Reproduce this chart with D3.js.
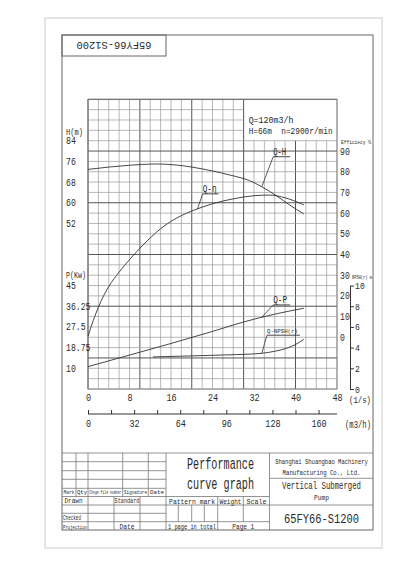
<!DOCTYPE html>
<html>
<head>
<meta charset="utf-8">
<script src="https://cdn.jsdelivr.net/npm/d3@7"></script>
<style>
  body { margin: 0; background: #fff; }
  svg text { font-family: "Liberation Mono", monospace; fill: #2a2a2a; white-space: pre; }
</style>
</head>
<body>
<div id="chart"></div>
<script>
// curve points, Q in l/s
const qhData = [[0, 72.9], [4, 73.8], [8, 74.5], [13, 75.0], [17, 74.6], [20, 73.8], [24, 72.3],
  [27.4, 70.7], [31.2, 68.5], [33.5, 66.2], [36.4, 62.6], [38.9, 59.1], [41.6, 55.7]];
const qEffData = [[0, 0.5], [1, 8], [2, 14.5], [3, 20], [4, 24.5], [6, 31.5], [8, 37.5], [10, 43], [12, 48],
  [14, 52.5], [16, 56], [18, 58.8], [20, 61], [24, 64.5], [28, 66.9], [32, 68.4], [35, 68.7], [38, 67.4], [41.6, 64]];
const qpData = [[0, 10.7], [8, 15.6], [16, 20.5], [24, 25.6], [30, 29.6], [36, 32.9], [41.6, 35.4]];
const qNpshData = [[12.5, 3.1], [20, 3.2], [27, 3.3], [33.5, 3.45], [36, 3.65], [38.3, 3.94], [40, 4.3], [41.6, 4.8]];

const flowTicks = [0, 8, 16, 24, 32, 40, 48];
const m3hTicks = [0, 16, 32, 48, 64, 80, 96, 112, 128, 144, 160];
const m3hLabels = [0, 32, 64, 96, 128, 160];
const headTicks = [84, 76, 68, 60, 52];
const powerTicks = [45, 36.25, 27.5, 18.75, 10];
const effTicks = [90, 80, 70, 60, 50, 40, 30, 20, 10, 0];
const npshTicks = [10, 8, 6, 4, 2, 0];

const width = 400, height = 566;
const gx0 = 88, gx1 = 337, gy0 = 99.3, gy1 = 389;
const nCols = 24, nRows = 28;

const svg = d3.select("#chart").append("svg")
    .attr("width", width)
    .attr("height", height);

// scales
const x = d3.scaleLinear().domain([0, 48]).range([gx0, gx1]);
const xm3h = d3.scaleLinear().domain([0, 48 * 3.6]).range([gx0, gx1]);
const rowY = d3.scaleLinear().domain([0, nRows]).range([gy0, gy1]);
const colX = d3.scaleLinear().domain([0, nCols]).range([gx0, gx1]);
const yH = d3.scaleLinear().domain([100, -12]).range([gy0, gy1]);
const yEff = d3.scaleLinear().domain([115, -25]).range([gy0, gy1]);
const yP = d3.scaleLinear().domain([123.75, 1.25]).range([gy0, gy1]);
const yN = d3.scaleLinear().domain([28, 0]).range([gy0, gy1]);

// narrow text: the drawing font is tall and thin, so squeeze a mono face to the wanted width
function label(txt, tx, ty, size, len, anchor) {
  const t = svg.append("text")
      .attr("font-size", size)
      .attr("text-anchor", anchor || "start")
      .text(txt);
  const w = t.node().getComputedTextLength();
  const k = len ? len / w : 0.85;
  t.attr("transform", `translate(${tx},${ty}) scale(${k},1)`);
  return t;
}

// page outline
svg.append("rect")
    .attr("x", 45).attr("y", 18).attr("width", 337).attr("height", 530)
    .attr("fill", "none").attr("stroke", "#ccc").attr("stroke-width", 1);

svg.append("rect")
    .attr("x", 62).attr("y", 35).attr("width", 311).attr("height", 495)
    .attr("fill", "none").attr("stroke", "#666").attr("stroke-width", 1);

// rotated drawing number at the top
svg.append("rect")
    .attr("x", 62).attr("y", 35).attr("width", 104).attr("height", 21)
    .attr("fill", "none").attr("stroke", "#666");
const topNo = svg.append("text")
    .attr("text-anchor", "middle").attr("dy", "0.35em")
    .attr("font-size", 11)
    .text("65FY66-S1200");
topNo.attr("transform", `translate(114,45.5) rotate(180) scale(${75 / topNo.node().getComputedTextLength()},1)`);

// grid, the top right corner is left open for the duty point box
const grid = svg.append("g");
const boxCol = 15, boxRow = 4;
d3.range(0, nCols + 1).forEach(c => {
  const top = (c > boxCol && c < nCols) ? rowY(boxRow) : gy0;
  grid.append("line")
      .attr("x1", colX(c)).attr("x2", colX(c))
      .attr("y1", top).attr("y2", gy1)
      .attr("stroke", c % 5 === 0 ? "#555" : "#999")
      .attr("stroke-width", c % 5 === 0 ? 1 : 0.7);
});
d3.range(0, nRows + 1).forEach(r => {
  const right = (r > 0 && r < boxRow) ? colX(boxCol) : gx1;
  grid.append("line")
      .attr("x1", gx0).attr("x2", right)
      .attr("y1", rowY(r)).attr("y2", rowY(r))
      .attr("stroke", r % 5 === 0 ? "#555" : "#999")
      .attr("stroke-width", r % 5 === 0 ? 1 : 0.7);
});
grid.append("rect")
    .attr("x", gx0).attr("y", gy0).attr("width", gx1 - gx0).attr("height", gy1 - gy0)
    .attr("fill", "none").attr("stroke", "#777").attr("stroke-width", 0.8);

label("Q=120m3/h", colX(boxCol) + 5, 123, 9, 45);
label("H=66m  n=2900r/min", colX(boxCol) + 5, 133.5, 9, 84);

// left labels
const leftX = 66;
label("H(m)", leftX, yH(84) - 6, 9, 17);
headTicks.forEach(d => label(String(d), leftX, yH(d) + 3.5, 10, String(d).length * 4.9));
label("P(Kw)", leftX, yP(45) - 8, 8.5, 20);
powerTicks.forEach(d => label(String(d), leftX, yP(d) + 3.5, 10, String(d).length * 4.9));

// efficiency labels on the right
label("Efficiecy %", 341, yEff(90) - 7, 6, 30);
effTicks.forEach(d => label(String(d), 340, yEff(d) + 3.5, 10, String(d).length * 4.9));

// NPSH axis
const yNpsh = d3.scaleLinear().domain([0, 10]).range([yN(0), yN(10)]);
const npshAxis = svg.append("g")
    .attr("transform", "translate(350,0)")
    .call(d3.axisRight(yNpsh).tickValues(npshTicks).tickSize(4).tickPadding(2).tickSizeOuter(0));
npshAxis.selectAll("text").attr("font-size", 9.5).attr("font-family", "Liberation Mono")
    .attr("transform", "scale(0.85,1)");
npshAxis.selectAll("path,line").attr("stroke", "#333");
label("NPSH(r) m", 352, yN(10) - 7, 5, 20);

// flow axes at the bottom
const flowAxis = svg.append("g")
    .attr("transform", `translate(0,${gy1})`)
    .call(d3.axisBottom(x).tickValues(flowTicks).tickSize(0).tickPadding(5));
flowAxis.select(".domain").remove();
flowAxis.selectAll("text").attr("font-size", 10).attr("font-family", "Liberation Mono")
    .attr("transform", "scale(0.85,1)");
label("(1/s)", 349, gy1 + 14, 9, 22);

const m3hAxis = svg.append("g")
    .attr("transform", "translate(0,414)")
    .call(d3.axisBottom(xm3h).tickValues(m3hTicks).tickSizeInner(-4).tickSizeOuter(0).tickPadding(6)
      .tickFormat(d => m3hLabels.includes(d) ? d : ""));
m3hAxis.select(".domain").attr("d", `M${gx0},0H${gx1}`).attr("stroke", "#333");
m3hAxis.selectAll("line").attr("stroke", "#333");
m3hAxis.selectAll("text").attr("font-size", 10).attr("font-family", "Liberation Mono")
    .attr("transform", "scale(0.85,1)");
label("(m3/h)", 345, 428, 10, 26);

// curves
const curveGroup = svg.append("g").attr("fill", "none").attr("stroke", "#333").attr("stroke-width", 0.9);
const mkLine = yScale => d3.line().x(d => x(d[0])).y(d => yScale(d[1])).curve(d3.curveMonotoneX);
curveGroup.append("path").attr("d", mkLine(yH)(qhData));
curveGroup.append("path").attr("d", mkLine(yEff)(qEffData));
curveGroup.append("path").attr("d", mkLine(yP)(qpData));
curveGroup.append("path").attr("d", mkLine(yN)(qNpshData));

// curve labels: underlined name with a leader line down to the curve
function curveLabel(txt, lq, ly, pq, yScale, data, size, tlen, ulen) {
  const lx = x(lq);
  const py = yScale(d3.scaleLinear().domain(data.map(d => d[0])).range(data.map(d => d[1]))(pq));
  label(txt, lx, ly - 1.8, size, tlen);
  svg.append("line").attr("x1", lx).attr("x2", lx + ulen).attr("y1", ly).attr("y2", ly)
      .attr("stroke", "#333").attr("stroke-width", 0.9);
  svg.append("line").attr("x1", lx).attr("x2", x(pq)).attr("y1", ly).attr("y2", py)
      .attr("stroke", "#333").attr("stroke-width", 0.8);
}
curveLabel("Q-H", 35.7, yH(77.8), 33.5, yH, qhData, 10, 13, 17);
curveLabel("Q-η", 22.1, yEff(69.3), 21.1, yEff, qEffData, 10, 14, 16);
curveLabel("Q-P", 35.7, yP(36.8), 33.5, yP, qpData, 10, 14, 17);
curveLabel("Q-NPSH(r)", 34.5, yN(5.2), 33.5, yN, qNpshData, 6, 31, 33);

// title block
const tb = svg.append("g").attr("stroke", "#777").attr("stroke-width", 0.8);
const hl = (x1, x2, y) => tb.append("line").attr("x1", x1).attr("x2", x2).attr("y1", y).attr("y2", y);
const vl = (xx, y1, y2) => tb.append("line").attr("x1", xx).attr("x2", xx).attr("y1", y1).attr("y2", y2);
hl(62, 373, 453);
[461.7, 470.7, 479.3, 488.3].forEach(y => hl(62, 166, y));
hl(62, 269.5, 496.5);
hl(62, 269.5, 505);
hl(62, 166, 513.3);
hl(62, 269.5, 521.7);
[76, 122.7, 148.3].forEach(xx => vl(xx, 453, 496.5));
vl(88, 453, 530);
[114, 140].forEach(xx => vl(xx, 496.5, 530));
vl(166, 453, 530);
[178.3, 191.7, 204.3].forEach(xx => vl(xx, 505, 521.7));
vl(217.7, 496.5, 530);
vl(243.3, 496.5, 521.7);
vl(269.5, 453, 530);
hl(269.5, 373, 478.3);
hl(269.5, 373, 505);

label("Mark", 69, 494, 5, 11, "middle");
label("Qty", 82, 494, 5, 10, "middle");
label("Chnge file number", 105.3, 494, 5, 32, "middle");
label("Signature", 135.5, 494, 5, 23, "middle");
label("Date", 157, 494, 5, 14, "middle");
label("Drawn", 73.5, 503, 7, 18, "middle");
label("Standard", 127, 503, 7, 25, "middle");
label("Checked", 72, 520, 6.5, 18, "middle");
label("Projection", 75, 528.5, 6, 24, "middle");
label("Date", 127, 528.5, 7.5, 15, "middle");

label("Performance", 220.5, 469, 17, 67, "middle");
label("curve graph", 220.5, 489, 17, 67, "middle");
label("Pattern mark", 192, 503.5, 7, 46, "middle");
label("Weight", 230.5, 503.5, 7, 22, "middle");
label("Scale", 256.4, 503.5, 7, 20, "middle");
label("1 page in total", 192, 528.5, 7, 48, "middle");
label("Page 1", 243.3, 528.5, 7, 22, "middle");

label("Shanghai Shuangbao Machinery", 321.5, 463.5, 8, 93, "middle");
label("Manufacturing Co., Ltd.", 321.5, 475, 8, 78, "middle");
label("Vertical Submerged", 321.5, 489, 10, 79, "middle");
label("Pump", 321.5, 499.5, 8, 15, "middle");
label("65FY66-S1200", 321.5, 522.5, 13, 75, "middle");
</script>
</body>
</html>
